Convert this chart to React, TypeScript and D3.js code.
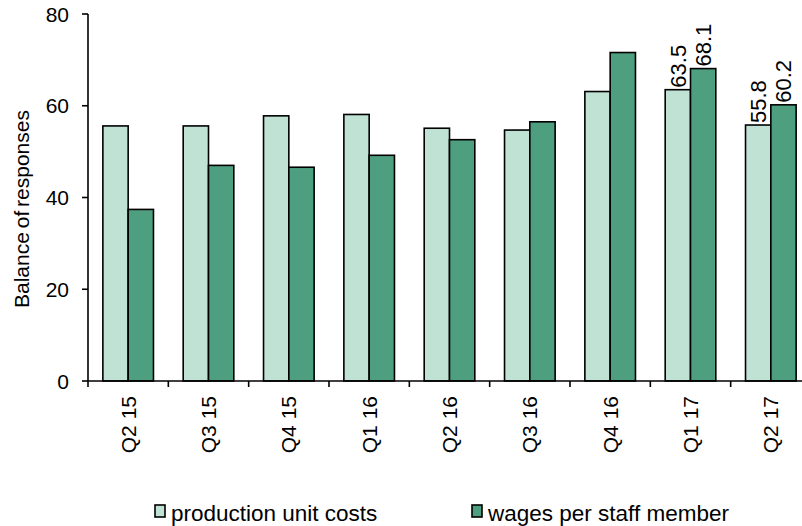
import React, { useEffect, useRef } from "react";
import * as d3 from "d3";

const categories = ["Q2 15", "Q3 15", "Q4 15", "Q1 16", "Q2 16", "Q3 16", "Q4 16", "Q1 17", "Q2 17"];
const productionUnitCosts = [55.6, 55.6, 57.8, 58.1, 55.1, 54.7, 63.1, 63.5, 55.8];
const wagesPerStaff = [37.4, 47.0, 46.6, 49.2, 52.6, 56.5, 71.6, 68.1, 60.2];
const seriesNames = ["production unit costs", "wages per staff member"];
const seriesColors = ["#c0e2d5", "#4e9e80"];
const labelledCategories = ["Q1 17", "Q2 17"];
const yTicks = [0, 20, 40, 60, 80];

export default function App() {
  const ref = useRef<SVGSVGElement>(null);
  useEffect(() => {
    const svg = d3.select(ref.current);
    svg.selectAll("*").remove();
    const font = "Arial, 'Liberation Sans', sans-serif";
    const x0 = 88, x1 = 811, yTop = 14, yBot = 381;
    const x = d3.scaleBand().domain(categories).range([x0, x1]).paddingInner(0.37).paddingOuter(0.185);
    const y = d3.scaleLinear().domain([0, 80]).range([yBot, yTop]);
    const bw = x.bandwidth() / 2;
    const series = [productionUnitCosts, wagesPerStaff];

    series.forEach((vals, si) => {
      svg.append("g").selectAll("rect").data(categories).enter().append("rect")
        .attr("x", (c) => (x(c) as number) + si * bw)
        .attr("y", (c, i) => y(vals[i]))
        .attr("width", bw)
        .attr("height", (c, i) => yBot - y(vals[i]))
        .attr("fill", seriesColors[si])
        .attr("stroke", "#000")
        .attr("stroke-width", 1.6);
    });

    // value labels
    series.forEach((vals, si) => {
      categories.forEach((c, i) => {
        if (!labelledCategories.includes(c)) return;
        const cx = (x(c) as number) + si * bw + bw / 2;
        const ty = y(vals[i]) - 2;
        svg.append("text")
          .attr("transform", `translate(${cx},${ty}) rotate(-90)`)
          .attr("dy", "0.35em")
          .attr("font-family", font)
          .attr("font-size", 22)
          .attr("fill", "#000")
          .text(vals[i].toFixed(1));
      });
    });

    // y axis
    const ya = svg.append("g").attr("transform", `translate(${x0},0)`);
    ya.append("line").attr("x1", 0).attr("x2", 0).attr("y1", yTop).attr("y2", yBot).attr("stroke", "#000").attr("stroke-width", 1.6);
    yTicks.forEach((t) => {
      ya.append("line").attr("x1", -6).attr("x2", 0).attr("y1", y(t)).attr("y2", y(t)).attr("stroke", "#000").attr("stroke-width", 1.6);
      ya.append("text").attr("x", -19).attr("y", y(t)).attr("dy", "0.36em").attr("text-anchor", "end")
        .attr("font-family", font).attr("font-size", 21).text(t);
    });

    // x axis
    const xa = svg.append("g");
    xa.append("line").attr("x1", x0).attr("x2", 802).attr("y1", yBot).attr("y2", yBot).attr("stroke", "#000").attr("stroke-width", 1.6);
    const step = x.step();
    categories.forEach((c) => {
      const tx = (x(c) as number) - (step - x.bandwidth()) / 2;
      xa.append("line").attr("x1", tx).attr("x2", tx).attr("y1", yBot).attr("y2", yBot + 6).attr("stroke", "#000").attr("stroke-width", 1.6);
      const cx = (x(c) as number) + x.bandwidth() / 2;
      xa.append("text")
        .attr("transform", `translate(${cx},${yBot + 15}) rotate(-90)`)
        .attr("dy", "0.36em")
        .attr("text-anchor", "end")
        .attr("font-family", font).attr("font-size", 21)
        .text(c);
    });

    // y label
    svg.append("text")
      .attr("transform", `translate(29,209) rotate(-90)`)
      .attr("text-anchor", "middle")
      .attr("font-family", font).attr("font-size", 21)
      .attr("word-spacing", -2)
      .text("Balance of responses");

    // legend
    const legX = [155, 472];
    seriesNames.forEach((n, i) => {
      svg.append("rect").attr("x", legX[i]).attr("y", 505).attr("width", 10).attr("height", 12)
        .attr("fill", seriesColors[i]).attr("stroke", "#000").attr("stroke-width", 1.6);
      svg.append("text").attr("x", legX[i] + 16).attr("y", 521)
        .attr("font-family", font).attr("font-size", 22.5)
        .text(n);
    });
  }, []);
  return (
    <svg ref={ref} width={802} height={526} style={{ position: "absolute", left: 0, top: 0, background: "#fff" }} />
  );
}
